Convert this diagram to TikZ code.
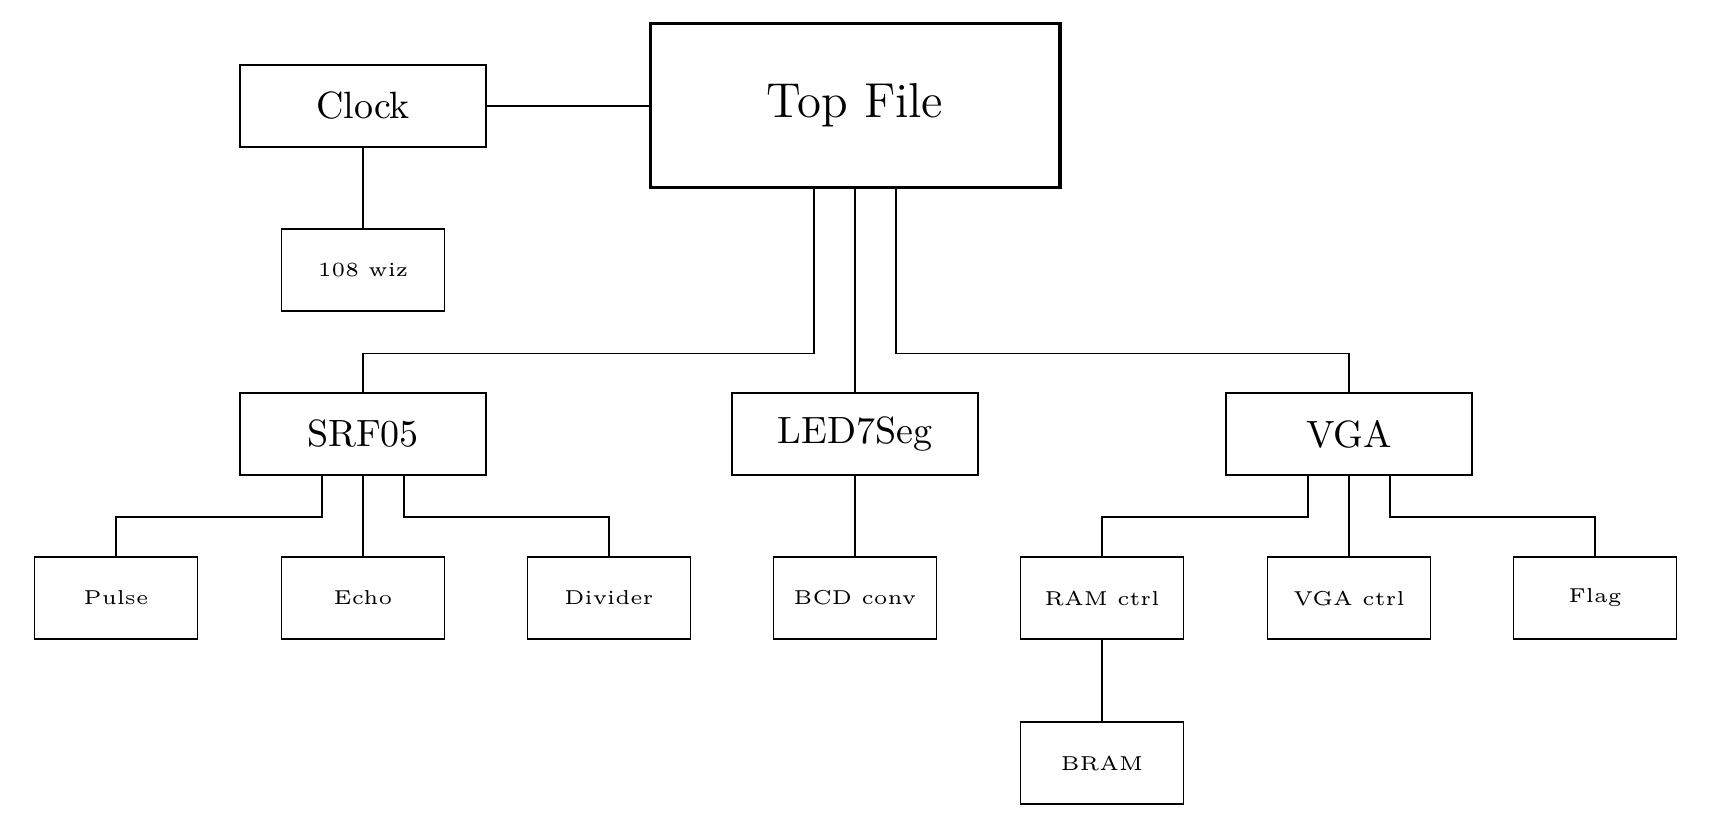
\documentclass[tikz,border=0pt]{standalone}
\usetikzlibrary{calc}
\begin{document}
\begin{tikzpicture}[x=0.2632pt,y=-0.2632pt,
  mid/.style={draw,line width=0.45pt,minimum width=64.75pt,minimum height=21.6pt,inner sep=0pt,font=\normalsize},
  leaf/.style={draw,line width=0.45pt,minimum width=42.9pt,minimum height=21.6pt,inner sep=0pt,font=\fontsize{5.3}{6.5}\selectfont},
  topbox/.style={draw,line width=0.8pt,minimum width=107.9pt,minimum height=43.4pt,inner sep=0pt,font=\fontsize{12.9}{15}\selectfont},
  wire/.style={line width=0.45pt}]
\useasboundingbox (0,0) rectangle (1716,824);
\node[topbox] (top) at (855,105.5) {Top File};
\node[mid] (clock) at (363,106) {Clock};
\node[leaf] (wiz) at (363,270) {108 wiz};
\node[mid] (srf) at (363,434) {SRF05};
\node[mid] (led) at (855,434) {LED7Seg};
\node[mid] (vga) at (1349,434) {VGA};
\node[leaf] (pulse) at (116,598) {Pulse};
\node[leaf] (echo) at (363,598) {Echo};
\node[leaf] (div) at (609,598) {Divider};
\node[leaf] (bcd) at (855,598) {BCD conv};
\node[leaf] (ram) at (1102,598) {RAM ctrl};
\node[leaf] (vctrl) at (1349,598) {VGA ctrl};
\node[leaf] (flag) at (1595,598) {Flag};
\node[leaf] (bram) at (1102,763) {BRAM};
\draw[wire] (clock.east) -- (clock.east -| top.west);
\draw[wire] (clock) -- (wiz);
\draw[wire] ($(top.south)+(-41,0)$) -- ++(0,164) -| (srf.north);
\draw[wire] (top.south) -- (led.north);
\draw[wire] ($(top.south)+(41,0)$) -- ++(0,164) -| (vga.north);
\draw[wire] ($(srf.south)+(-41,0)$) -- ++(0,41) -| (pulse.north);
\draw[wire] (srf.south) -- (echo.north);
\draw[wire] ($(srf.south)+(41,0)$) -- ++(0,41) -| (div.north);
\draw[wire] (led) -- (bcd);
\draw[wire] ($(vga.south)+(-41,0)$) -- ++(0,41) -| (ram.north);
\draw[wire] (vga.south) -- (vctrl.north);
\draw[wire] ($(vga.south)+(41,0)$) -- ++(0,41) -| (flag.north);
\draw[wire] (ram) -- (bram);
\end{tikzpicture}
\end{document}
